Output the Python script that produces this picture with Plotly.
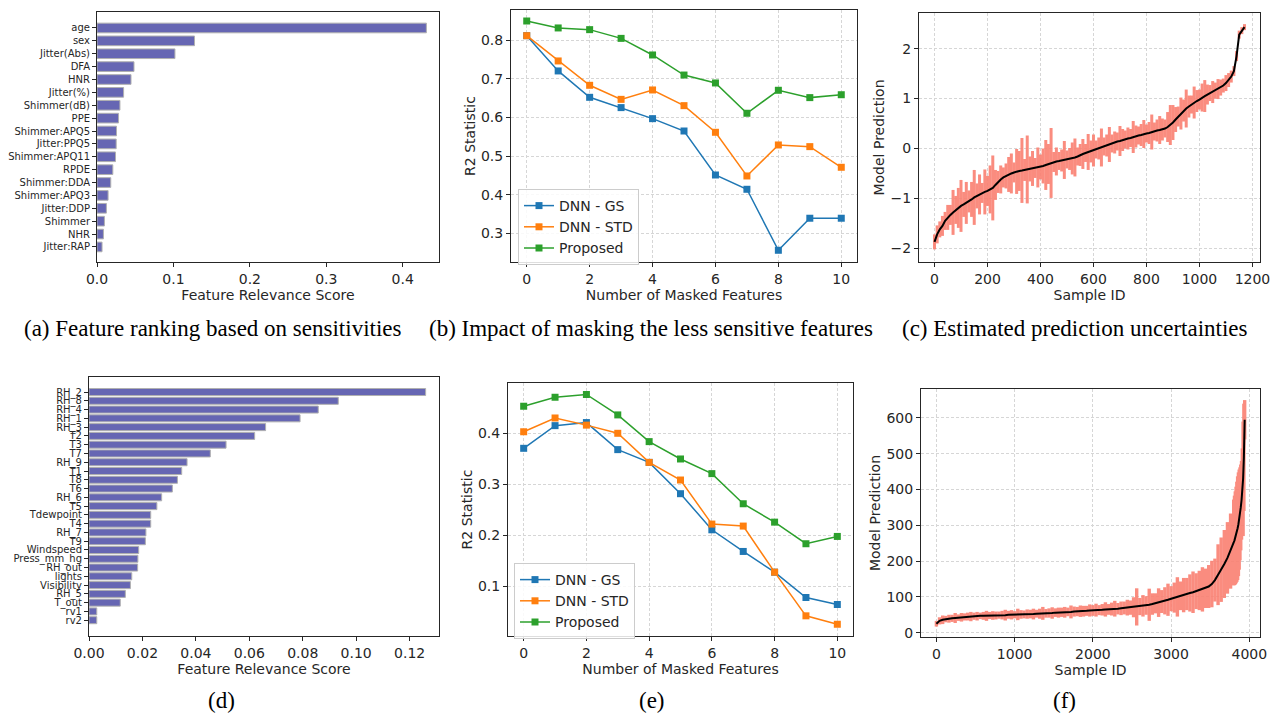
import plotly.graph_objects as go

W, H = 1271, 713

# ---------------- data ----------------
# (a) Parkinson dataset feature relevance (top to bottom)
feat_a = ["age", "sex", "Jitter(Abs)", "DFA", "HNR", "Jitter(%)", "Shimmer(dB)", "PPE",
          "Shimmer:APQ5", "Jitter:PPQ5", "Shimmer:APQ11", "RPDE", "Shimmer:DDA",
          "Shimmer:APQ3", "Jitter:DDP", "Shimmer", "NHR", "Jitter:RAP"]
score_a = [0.431, 0.1276, 0.102, 0.0484, 0.0445, 0.0348, 0.030, 0.0282, 0.0255, 0.0251,
           0.0242, 0.0207, 0.018, 0.0145, 0.0123, 0.0097, 0.0084, 0.0066]

# (d) Energy dataset feature relevance (top to bottom)
feat_d = ["RH_2", "RH_8", "RH_4", "RH_1", "RH_3", "T2", "T3", "T7", "RH_9", "T1", "T8", "T6",
          "RH_6", "T5", "Tdewpoint", "T4", "RH_7", "T9", "Windspeed", "Press_mm_hg", "RH_out",
          "lights", "Visibility", "RH_5", "T_out", "rv1", "rv2"]
score_d = [0.126, 0.0933, 0.0858, 0.079, 0.0661, 0.062, 0.0513, 0.0454, 0.0367, 0.0347,
           0.0331, 0.0312, 0.0272, 0.0254, 0.0231, 0.0231, 0.0213, 0.0211, 0.0186, 0.0183,
           0.0182, 0.016, 0.0155, 0.0136, 0.0117, 0.0029, 0.0029]

# (b), (e) masking experiments
masked = [0, 1, 2, 3, 4, 5, 6, 7, 8, 9, 10]
gs_b = [0.812, 0.7206, 0.6523, 0.6256, 0.597, 0.565, 0.451, 0.414, 0.256, 0.339, 0.339]
std_b = [0.812, 0.7465, 0.6834, 0.647, 0.6713, 0.6307, 0.5617, 0.4485, 0.5288, 0.5245, 0.471]
prop_b = [0.850, 0.832, 0.8276, 0.805, 0.762, 0.710, 0.6895, 0.611, 0.6705, 0.6515, 0.659]

gs_e = [0.3706, 0.415, 0.421, 0.368, 0.343, 0.2817, 0.211, 0.1686, 0.128, 0.0784, 0.0647]
std_e = [0.403, 0.430, 0.416, 0.400, 0.343, 0.3085, 0.2222, 0.2183, 0.128, 0.0425, 0.026]
prop_e = [0.453, 0.4706, 0.476, 0.436, 0.3837, 0.3497, 0.321, 0.262, 0.226, 0.1837, 0.198]

series_names = ["DNN - GS", "DNN - STD", "Proposed"]
series_colors = ["#1f77b4", "#ff7f0e", "#2ca02c"]

# (c) predictions with uncertainty (sample IDs every 10)
ids_c = list(range(0, 1180, 10))
pred_c = [-1.87, -1.72, -1.62, -1.55, -1.45, -1.38, -1.33, -1.28, -1.23, -1.19,
          -1.15, -1.12, -1.09, -1.06, -1.02, -0.98, -0.95, -0.92, -0.89, -0.87,
          -0.85, -0.82, -0.79, -0.73, -0.67, -0.62, -0.58, -0.55, -0.52, -0.50,
          -0.48, -0.46, -0.45, -0.44, -0.43, -0.42, -0.41, -0.40, -0.39, -0.38,
          -0.37, -0.35, -0.33, -0.31, -0.29, -0.27, -0.26, -0.25, -0.24, -0.23,
          -0.22, -0.21, -0.20, -0.18, -0.16, -0.13, -0.11, -0.09, -0.07, -0.06,
          -0.04, -0.02, 0.00, 0.02, 0.04, 0.06, 0.08, 0.10, 0.12, 0.14,
          0.15, 0.17, 0.18, 0.20, 0.21, 0.23, 0.24, 0.26, 0.27, 0.29,
          0.30, 0.31, 0.33, 0.34, 0.36, 0.37, 0.38, 0.40, 0.43, 0.47,
          0.52, 0.58, 0.64, 0.70, 0.76, 0.80, 0.84, 0.88, 0.92, 0.95,
          0.98, 1.02, 1.05, 1.08, 1.11, 1.13, 1.16, 1.19, 1.22, 1.26,
          1.31, 1.37, 1.44, 1.55, 1.85, 2.28, 2.36, 2.43]
err_c = [0.15, 0.18, 0.16, 0.20, 0.18, 0.25, 0.20, 0.45, 0.28, 0.40,
         0.52, 0.25, 0.42, 0.22, 0.35, 0.55, 0.25, 0.40, 0.20, 0.45,
         0.30, 0.48, 0.65, 0.30, 0.22, 0.28, 0.20, 0.25, 0.35, 0.40,
         0.20, 0.45, 0.40, 0.65, 0.22, 0.68, 0.25, 0.35, 0.20, 0.40,
         0.25, 0.35, 0.50, 0.40, 0.70, 0.20, 0.28, 0.18, 0.22, 0.38,
         0.18, 0.22, 0.32, 0.38, 0.18, 0.22, 0.30, 0.18, 0.36, 0.22,
         0.32, 0.18, 0.22, 0.38, 0.18, 0.22, 0.35, 0.18, 0.22, 0.18,
         0.30, 0.22, 0.18, 0.22, 0.18, 0.32, 0.22, 0.18, 0.22, 0.28,
         0.18, 0.22, 0.35, 0.18, 0.22, 0.28, 0.22, 0.18, 0.30, 0.40,
         0.35, 0.25, 0.20, 0.32, 0.22, 0.38, 0.22, 0.18, 0.32, 0.22,
         0.20, 0.28, 0.32, 0.20, 0.16, 0.22, 0.16, 0.20, 0.16, 0.14,
         0.16, 0.14, 0.12, 0.10, 0.10, 0.08, 0.07, 0.06]

# (f) predictions with uncertainty
ids_f = list(range(0, 3800, 40)) + list(range(3800, 3950, 10))
pred_f = [25, 33, 36, 38, 39, 40, 41, 42, 43, 44,
          45, 45, 46, 46, 47, 47, 47, 48, 48, 48,
          49, 49, 49, 50, 50, 50, 51, 51, 51, 52,
          52, 52, 53, 53, 54, 54, 55, 55, 56, 56,
          57, 57, 58, 58, 59, 59, 60, 60, 61, 62,
          62, 63, 63, 64, 65, 65, 66, 67, 67, 68,
          69, 70, 70, 71, 72, 73, 75, 76, 78, 80,
          82, 84, 87, 89, 92, 95, 98, 100, 103, 105,
          108, 111, 113, 116, 118, 121, 124, 129, 136, 147,
          162, 176, 192, 209, 228,
          252, 258, 265, 273, 282, 292, 303, 316, 332, 350, 370, 395, 430, 490, 595]
err_f = [8, 10, 12, 9, 11, 10, 14, 9, 12, 10,
         11, 13, 10, 12, 9, 11, 14, 10, 12, 11,
         10, 12, 15, 11, 13, 10, 16, 12, 11, 13,
         12, 15, 11, 14, 18, 12, 13, 16, 12, 14,
         13, 15, 12, 18, 14, 13, 16, 15, 14, 17,
         15, 18, 14, 16, 20, 15, 18, 22, 16, 19,
         18, 22, 20, 28, 52, 24, 30, 26, 45, 30,
         28, 40, 32, 38, 45, 35, 42, 55, 40, 48,
         45, 52, 58, 50, 55, 62, 55, 60, 65, 60,
         85, 90, 95, 100, 105,
         120, 125, 130, 135, 140, 145, 145, 140, 130, 120, 110, 120, 160, 150, 55]

captions = ["(a) Feature ranking based on sensitivities",
            "(b) Impact of masking the less sensitive features",
            "(c) Estimated prediction uncertainties",
            "(d)", "(e)", "(f)"]

# ---------------- figure ----------------
FONT = "DejaVu Sans"
INK = "#262626"
BAR = "#6666b3"
SALMON = "#fa8072"
FS = 14


def xd(l, r):
    return [l / W, r / W]


def yd(t, b):
    return [1 - b / H, 1 - t / H]


def ax(domain, anchor, rng, grid=False, **kw):
    d = dict(domain=domain, anchor=anchor, range=rng, autorange=False, automargin=False,
             showline=True, linecolor=INK,
             linewidth=1, mirror=True, ticks="outside", ticklen=4, tickwidth=1,
             tickcolor=INK, zeroline=False, showgrid=grid,
             gridcolor="#d6d6d6", griddash="3px,2px", gridwidth=0.8,
             tickfont=dict(family=FONT, size=FS, color=INK),
             title_font=dict(family=FONT, size=FS, color=INK))
    d.update(kw)
    return d


fig = go.Figure()

# (a)
fig.add_trace(go.Bar(x=score_a, y=list(range(len(feat_a))), orientation="h", width=0.75,
                     marker=dict(color=BAR, line=dict(color="#b0b0b0", width=1)),
                     xaxis="x", yaxis="y", showlegend=False))
# (d)
fig.add_trace(go.Bar(x=score_d, y=list(range(len(feat_d))), orientation="h", width=0.8,
                     marker=dict(color=BAR, line=dict(color="#b0b0b0", width=1)),
                     xaxis="x4", yaxis="y4", showlegend=False))

# (b) and (e)
for ys, xa, ya, lg in [((gs_b, std_b, prop_b), "x2", "y2", "legend"),
                       ((gs_e, std_e, prop_e), "x5", "y5", "legend2")]:
    for vals, name, col in zip(ys, series_names, series_colors):
        fig.add_trace(go.Scatter(x=masked, y=vals, mode="lines+markers", name=name,
                                 line=dict(color=col, width=1.5),
                                 marker=dict(symbol="square", size=7, color=col),
                                 xaxis=xa, yaxis=ya, legend=lg))

# (c) and (f)
for ids, pred, err, xa, ya, th in [(ids_c, pred_c, err_c, "x3", "y3", 3),
                                   (ids_f, pred_f, err_f, "x6", "y6", 3.4)]:
    fig.add_trace(go.Scatter(x=ids, y=pred, mode="markers",
                             marker=dict(size=1, color=SALMON, opacity=0),
                             error_y=dict(type="data", array=err, color=SALMON,
                                          thickness=th, width=0),
                             xaxis=xa, yaxis=ya, showlegend=False, opacity=0.9))
    fig.add_trace(go.Scatter(x=ids, y=pred, mode="lines", line=dict(color="black", width=2),
                             xaxis=xa, yaxis=ya, showlegend=False))

layout = dict(
    template="none",
    width=W, height=H, margin=dict(l=0, r=0, t=0, b=0, autoexpand=False),
    paper_bgcolor="white", plot_bgcolor="white",
    font=dict(family=FONT, size=FS, color=INK),
    # (a)
    xaxis=ax(xd(97, 439), "y", [0, 0.4475], tickvals=[0, 0.1, 0.2, 0.3, 0.4],
             tickformat=".1f", title=dict(text="Feature Relevance Score", standoff=0)),
    yaxis=ax(yd(12, 262), "x", [18.17, -1.24], tickvals=list(range(len(feat_a))),
             ticktext=feat_a, tickfont=dict(family=FONT, size=10, color=INK)),
    # (b)
    xaxis2=ax(xd(511, 857), "y2", [-0.5, 10.5], grid=True, tickvals=[0, 2, 4, 6, 8, 10],
              title=dict(text="Number of Masked Features", standoff=0)),
    yaxis2=ax(yd(10, 262), "x2", [0.2256, 0.8785], grid=True,
              tickvals=[0.3, 0.4, 0.5, 0.6, 0.7, 0.8], tickformat=".1f",
              title=dict(text="R2 Statistic", standoff=2)),
    # (c)
    xaxis3=ax(xd(919, 1260), "y3", [-58.5, 1228.5], grid=True,
              tickvals=[0, 200, 400, 600, 800, 1000, 1200],
              title=dict(text="Sample ID", standoff=0)),
    yaxis3=ax(yd(13, 262), "x3", [-2.273, 2.713], grid=True, tickvals=[-2, -1, 0, 1, 2],
              title=dict(text="Model Prediction", standoff=2)),
    # (d)
    xaxis4=ax(xd(89, 439), "y4", [0, 0.131],
              tickvals=[0, 0.02, 0.04, 0.06, 0.08, 0.10, 0.12], tickformat=".2f",
              title=dict(text="Feature Relevance Score", standoff=0)),
    yaxis4=ax(yd(377, 636), "x4", [27.8, -1.71], tickvals=list(range(len(feat_d))),
              ticktext=feat_d, tickfont=dict(family=FONT, size=10, color=INK)),
    # (e)
    xaxis5=ax(xd(508, 853), "y5", [-0.5, 10.5], grid=True, tickvals=[0, 2, 4, 6, 8, 10],
              title=dict(text="Number of Masked Features", standoff=0)),
    yaxis5=ax(yd(383, 636), "x5", [0.003, 0.4985], grid=True,
              tickvals=[0.1, 0.2, 0.3, 0.4], tickformat=".1f",
              title=dict(text="R2 Statistic", standoff=2)),
    # (f)
    xaxis6=ax(xd(921, 1260), "y6", [-197, 4136], grid=True,
              tickvals=[0, 1000, 2000, 3000, 4000],
              title=dict(text="Sample ID", standoff=0)),
    yaxis6=ax(yd(389, 637), "x6", [-12.1, 681], grid=True,
              tickvals=[0, 100, 200, 300, 400, 500, 600],
              title=dict(text="Model Prediction", standoff=2)),
    legend=dict(x=518 / W, y=1 - 189 / H, xanchor="left", yanchor="top",
                bordercolor="#cccccc", borderwidth=1, bgcolor="rgba(255,255,255,0.85)",
                font=dict(family=FONT, size=FS, color=INK), tracegroupgap=0, itemwidth=30),
    legend2=dict(x=514 / W, y=1 - 563 / H, xanchor="left", yanchor="top",
                 bordercolor="#cccccc", borderwidth=1, bgcolor="rgba(255,255,255,0.85)",
                 font=dict(family=FONT, size=FS, color=INK), tracegroupgap=0, itemwidth=30),
)
fig.update_layout(**layout)

cap_pos = [(213, 328), (651, 328), (1075, 328), (222, 700), (652, 700), (1064, 700)]
for text, (cx, cy) in zip(captions, cap_pos):
    fig.add_annotation(text=text, x=cx / W, y=1 - cy / H, xref="paper", yref="paper",
                       showarrow=False, xanchor="center", yanchor="middle",
                       font=dict(family="Liberation Serif", size=23, color="black"))

fig.write_html("out.html", config={"displayModeBar": False},
               post_script="document.body.style.margin='0';document.body.style.overflow='hidden';")
